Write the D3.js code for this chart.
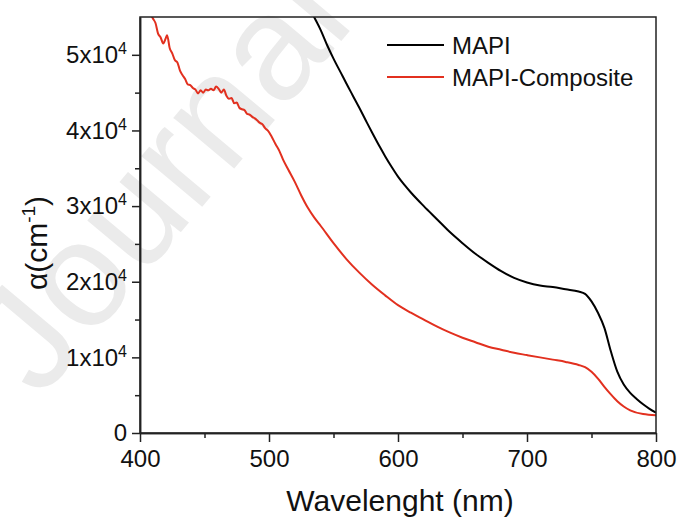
<!DOCTYPE html>
<html>
<head>
<meta charset="utf-8">
<script src="https://cdn.jsdelivr.net/npm/d3@7"></script>
<style>
  body { margin: 0; background: #fff; }
  svg { font-family: "Liberation Sans", Arial, sans-serif; }
</style>
</head>
<body>
<div id="chart-hook"></div>
<script>
var seriesNames = ['MAPI', 'MAPI-Composite']

// wavelength (nm) / absorption coefficient (cm-1)
var mapiWl = [528, 535, 540, 545, 550, 557, 560, 565, 570, 576, 580, 586, 590, 595, 600, 605, 610, 620, 630, 640, 650, 660, 670, 680, 690, 700, 710, 720, 730, 740, 745, 750, 755, 760, 765, 770, 775, 780, 785, 790, 795, 800]
var mapiVal = [57500, 55000, 53300, 51300, 49500, 47200, 46200, 44600, 43000, 41000, 39700, 37800, 36600, 35200, 33900, 32800, 31800, 30000, 28300, 26600, 25100, 23700, 22500, 21400, 20500, 19900, 19500, 19300, 19000, 18700, 18400, 17400, 15900, 13900, 10800, 8100, 6400, 5300, 4500, 3800, 3200, 2700]

var compWl = [405, 408, 410, 412, 414, 416, 418, 420, 421, 423, 425, 427, 429, 431, 433, 435, 437, 439, 441, 443, 445, 447, 449, 451, 453, 455, 457, 459, 461, 463, 465, 467, 469, 471, 473, 475, 477, 479, 481, 483, 485, 487, 489, 491, 493, 495, 497, 499, 502, 505, 508, 511, 515, 520, 525, 530, 535, 540, 550, 560, 570, 580, 590, 600, 610, 620, 630, 640, 650, 660, 670, 680, 690, 700, 710, 720, 730, 740, 745, 750, 755, 760, 765, 770, 775, 780, 790, 800]
var compVal = [57000, 55500, 54800, 54200, 52800, 52300, 51500, 52200, 52600, 50900, 50200, 49300, 49000, 47900, 47300, 46800, 46100, 46000, 45600, 45400, 44900, 45300, 45000, 45400, 45300, 45500, 45300, 45800, 45500, 45000, 45400, 44600, 44200, 44300, 43600, 43700, 43000, 42800, 42700, 42200, 42100, 41800, 41600, 41300, 41000, 40800, 40300, 40000, 39200, 38200, 37300, 36100, 34800, 33200, 31400, 29800, 28500, 27400, 25100, 23000, 21200, 19600, 18200, 16900, 15900, 15000, 14100, 13300, 12600, 12000, 11400, 11000, 10600, 10300, 10000, 9700, 9400, 9000, 8700, 8100, 7200, 6100, 5100, 4200, 3500, 3000, 2500, 2350]

var xTicks = [400, 500, 600, 700, 800]
var xMinor = [450, 550, 650, 750]
var yTicks = [0, 10000, 20000, 30000, 40000, 50000]
var yMinor = [5000, 15000, 25000, 35000, 45000]

var W = 679, H = 521
var plotL = 140, plotR = 656, plotT = 17, plotB = 433

var colors = ['#000000', '#e2301f']

var svg = d3.select('#chart-hook').append('svg')
  .attr('width', W)
  .attr('height', H)

// faint watermark behind the plot
svg.append('text')
  .attr('transform', 'translate(40,400) rotate(-50)')
  .attr('font-size', 150)
  .attr('fill', '#ebebeb')
  .text('Journal')

var x = d3.scaleLinear().domain([400, 800]).range([plotL, plotR])
var y = d3.scaleLinear().domain([0, 55000]).range([plotB, plotT])

svg.append('clipPath').attr('id', 'plot-clip')
  .append('rect')
  .attr('x', plotL).attr('y', plotT)
  .attr('width', plotR - plotL).attr('height', plotB - plotT)

var line = d3.line()
  .curve(d3.curveMonotoneX)
  .x(function (d) { return x(d[0]) })
  .y(function (d) { return y(d[1]) })

var series = [d3.zip(mapiWl, mapiVal), d3.zip(compWl, compVal)]

var plot = svg.append('g').attr('clip-path', 'url(#plot-clip)')
series.forEach(function (s, i) {
  plot.append('path')
    .datum(s)
    .attr('fill', 'none')
    .attr('stroke', colors[i])
    .attr('stroke-width', 2)
    .attr('stroke-linejoin', 'round')
    .attr('d', line)
})

// frame
svg.append('rect')
  .attr('x', plotL).attr('y', plotT)
  .attr('width', plotR - plotL).attr('height', plotB - plotT)
  .attr('fill', 'none')
  .attr('stroke', '#222')
  .attr('stroke-width', 1.5)

// x axis
var xAxis = svg.append('g')
  .attr('transform', 'translate(0,' + plotB + ')')
  .call(d3.axisBottom(x).tickValues(xTicks).tickSize(9).tickSizeOuter(0).tickPadding(8))
svg.append('g')
  .attr('transform', 'translate(0,' + plotB + ')')
  .call(d3.axisBottom(x).tickValues(xMinor).tickSize(5).tickSizeOuter(0).tickFormat(''))

// y axis
var yAxis = svg.append('g')
  .attr('transform', 'translate(' + plotL + ',0)')
  .call(d3.axisLeft(y).tickValues(yTicks).tickSize(8).tickSizeOuter(0).tickPadding(5).tickFormat(''))
svg.append('g')
  .attr('transform', 'translate(' + plotL + ',0)')
  .call(d3.axisLeft(y).tickValues(yMinor).tickSize(5).tickSizeOuter(0).tickFormat(''))

svg.selectAll('.domain').attr('stroke', '#222').attr('stroke-width', 1.5)
svg.selectAll('.tick line').attr('stroke', '#222').attr('stroke-width', 1.5)

xAxis.selectAll('text')
  .attr('font-size', 24)
  .attr('font-family', '"Liberation Sans", Arial, sans-serif')
  .attr('fill', '#111')

// y labels as Nx10^4
yAxis.selectAll('.tick text').each(function (d) {
  var t = d3.select(this)
    .attr('font-size', 24)
    .attr('font-family', '"Liberation Sans", Arial, sans-serif')
    .attr('fill', '#111')
    .attr('x', -13)
  if (d === 0) {
    t.text('0')
    return
  }
  t.append('tspan').text((d / 10000) + 'x10')
  t.append('tspan').attr('font-size', 16).attr('dy', '-0.55em').text('4')
})

// axis titles
svg.append('text')
  .attr('x', (plotL + plotR) / 2 + 2)
  .attr('y', 511)
  .attr('text-anchor', 'middle')
  .attr('font-size', 30)
  .attr('fill', '#111')
  .text('Wavelenght (nm)')

var yTitle = svg.append('text')
  .attr('transform', 'translate(47,243) rotate(-90)')
  .attr('text-anchor', 'middle')
  .attr('font-size', 30)
  .attr('fill', '#111')
yTitle.append('tspan').text('\u03b1(cm')
yTitle.append('tspan').attr('font-size', 19).attr('dy', -12).text('-1')
yTitle.append('tspan').attr('dy', 12).text(')')

// legend
var legend = svg.append('g')
seriesNames.forEach(function (name, i) {
  var ly = 45 + i * 32
  legend.append('line')
    .attr('x1', 387).attr('x2', 444)
    .attr('y1', ly).attr('y2', ly)
    .attr('stroke', colors[i])
    .attr('stroke-width', 2)
  legend.append('text')
    .attr('x', 452)
    .attr('y', ly + 9)
    .attr('font-size', 24)
    .attr('fill', '#111')
    .text(name)
})
</script>
</body>
</html>
